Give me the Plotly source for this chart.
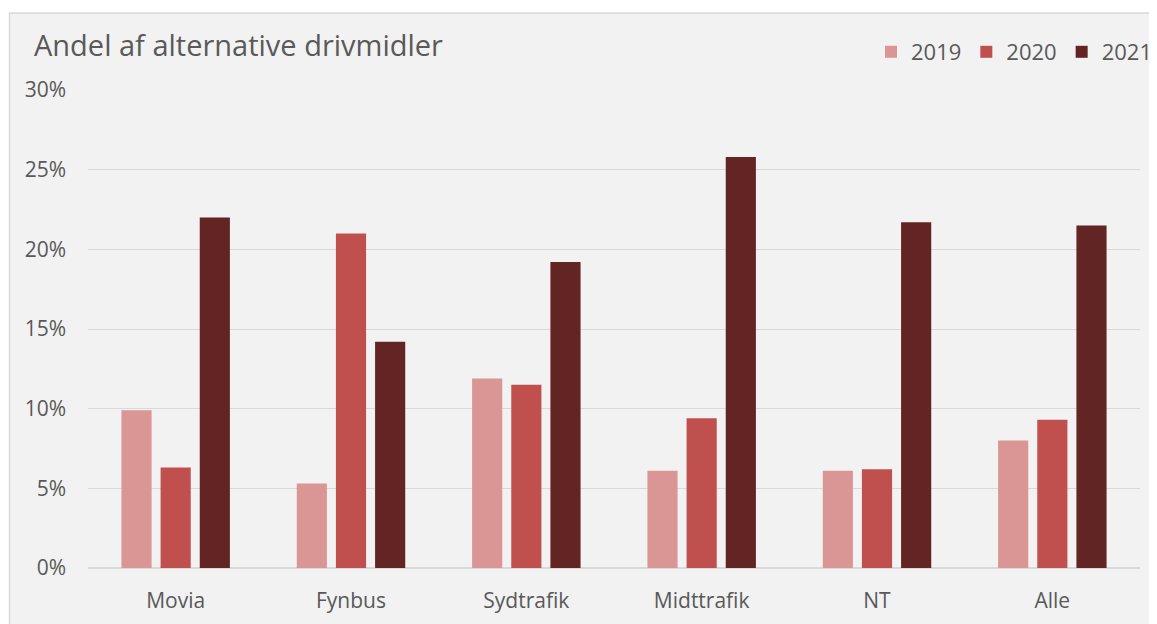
import plotly.graph_objects as go

categories = ["Movia", "Fynbus", "Sydtrafik", "Midttrafik", "NT", "Alle"]
years = ["2019", "2020", "2021"]
values_2019 = [0.099, 0.053, 0.119, 0.061, 0.061, 0.080]
values_2020 = [0.063, 0.210, 0.115, 0.094, 0.062, 0.093]
values_2021 = [0.220, 0.142, 0.192, 0.258, 0.217, 0.215]
colors = ["#DA9694", "#C0504D", "#632523"]
y_ticks = [0, 0.05, 0.10, 0.15, 0.20, 0.25, 0.30]
y_labels = ["0%", "5%", "10%", "15%", "20%", "25%", "30%"]

FONT = "Open Sans"
fig = go.Figure()
for year, vals, col in zip(years, [values_2019, values_2020, values_2021], colors):
    fig.add_trace(go.Bar(name=year, x=categories, y=vals, marker_color=col,
                         marker_line_width=0))

# page body has an 8px margin, so figure coords = screen coords - 8
W, H = 1149, 616
L, R, T, B = 80, 17, 82, 56
pw, ph = W - L - R, H - T - B

def px_x(p):
    return (p - L) / pw

def px_y(p):
    return (H - B - p) / ph

fig.add_shape(type="rect", xref="paper", yref="paper",
              x0=px_x(1.5), x1=px_x(1160), y0=px_y(640), y1=px_y(5),
              fillcolor="#f2f2f2", line=dict(color="#d9d9d9", width=1.5), layer="below")

fig.update_layout(
    width=W, height=H,
    margin=dict(l=L, r=R, t=T, b=B, autoexpand=False),
    paper_bgcolor="white", plot_bgcolor="#f2f2f2",
    barmode="group", bargap=0.33, bargroupgap=0.23,
    title=dict(text="Andel af alternative drivmidler", x=26 / W,
               xanchor="left", y=1 - 38 / H, yanchor="middle",
               font=dict(family=FONT, size=29, color="#595959")),
    legend=dict(orientation="h", xref="container", yref="container",
                x=1.0, xanchor="right", y=1 - 44 / H, yanchor="middle",
                font=dict(family=FONT, size=22, color="#595959"),
                bgcolor="rgba(0,0,0,0)", itemwidth=30, traceorder="normal"),
    font=dict(family=FONT, color="#595959", size=21),
    yaxis=dict(range=[0, 0.30], tickvals=y_ticks, ticktext=y_labels,
               gridcolor="#d9d9d9", gridwidth=1, zeroline=True, zerolinecolor="#d9d9d9",
               showline=False, ticks="", ticklabelstandoff=21,
               tickfont=dict(family=FONT, size=21, color="#595959")),
    xaxis=dict(showline=False, ticks="", tickfont=dict(family=FONT, size=21, color="#595959"),
               ticklabelstandoff=18),
)

fig.write_html("out.html")
